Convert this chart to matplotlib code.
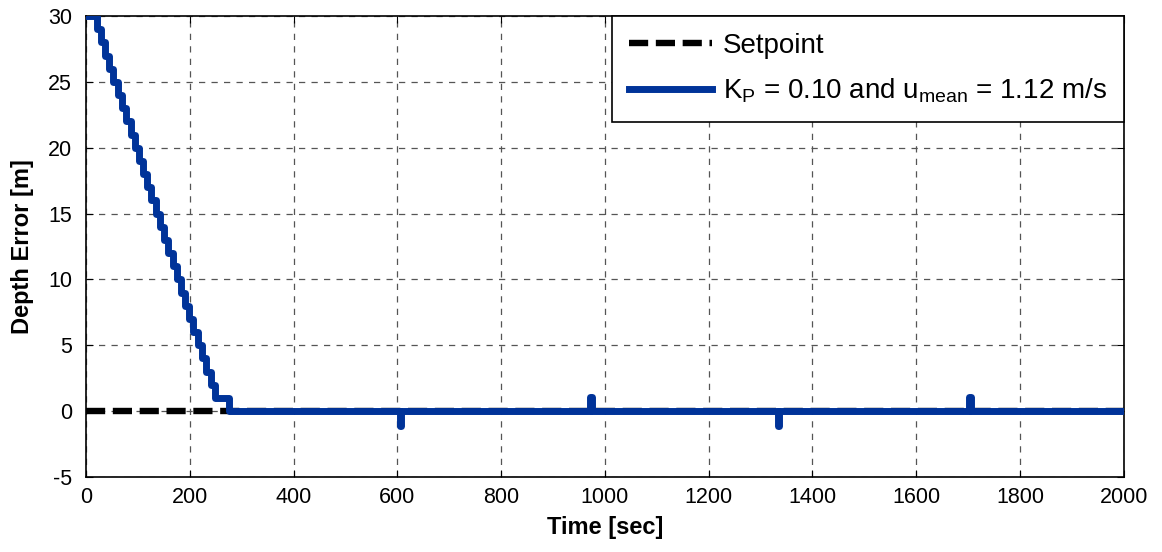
import matplotlib.pyplot as plt
import numpy as np

plt.rcParams['font.family'] = ['Liberation Sans', 'DejaVu Sans']
plt.rcParams['mathtext.fontset'] = 'custom'
plt.rcParams['mathtext.rm'] = 'Liberation Sans'
plt.rcParams['mathtext.it'] = 'Liberation Sans'
plt.rcParams['axes.unicode_minus'] = False

# depth error staircase while diving (time of each step, value held after it)
step_time = [0, 21, 29, 37, 45, 53, 62, 70, 78, 86, 94, 102, 110, 118, 126, 134,
             143, 151, 159, 167, 175, 183, 191, 199, 207, 215, 224, 232, 240,
             249, 276]
step_depth = [30, 29, 28, 27, 26, 25, 24, 23, 22, 21, 20, 19, 18, 17, 16, 15,
              14, 13, 12, 11, 10, 9, 8, 7, 6, 5, 4, 3, 2, 1, 0]

# short disturbances once at depth
spike_time = [605, 972, 1333, 1702]
spike_depth = [-1.1, 1.1, -1.1, 1.1]
spike_len = 3

t_end = 2000

t = list(step_time)
d = list(step_depth)
for ts, ds in zip(spike_time, spike_depth):
    t += [ts, ts + spike_len]
    d += [ds, 0]
t.append(t_end)
d.append(0)

fig = plt.figure(figsize=(11.62, 5.52), dpi=100)
ax = fig.add_axes([0.074, 0.136, 0.893, 0.835])

ax.plot([0, t_end], [0, 0], color='black', linestyle=(0, (3, 1.2)), linewidth=4.6,
        label='Setpoint', zorder=3)
ax.plot(t, d, color='#003399', linewidth=5, drawstyle='steps-post',
        label=r'K$_\mathregular{P}$ = 0.10 and u$_\mathregular{mean}$ = 1.12 m/s',
        zorder=4)

ax.set_xlim(0, 2000)
ax.set_ylim(-5, 30)
ax.set_xticks(np.arange(0, 2001, 200))
ax.set_yticks(np.arange(-5, 31, 5))
ax.tick_params(direction='in', top=True, right=True, length=5, labelsize=15.5)
ax.tick_params(axis='x', pad=7)
ax.tick_params(axis='y', pad=10)
ax.grid(True, color='#555555', linestyle=(0, (5, 5)), linewidth=0.9)
for s in ax.spines.values():
    s.set_linewidth(1.2)

ax.set_xlabel('Time [sec]', fontsize=17, fontweight='bold', labelpad=6)
ax.set_ylabel('Depth Error [m]', fontsize=17, fontweight='bold', labelpad=10)

leg = ax.legend(loc='upper right', fontsize=20, fancybox=False, framealpha=1,
                edgecolor='black', borderaxespad=0, handlelength=3.0,
                handletextpad=0.4, borderpad=0.6, labelspacing=0.65)
leg.get_frame().set_linewidth(1.2)

fig.savefig('out.png', dpi=100)
